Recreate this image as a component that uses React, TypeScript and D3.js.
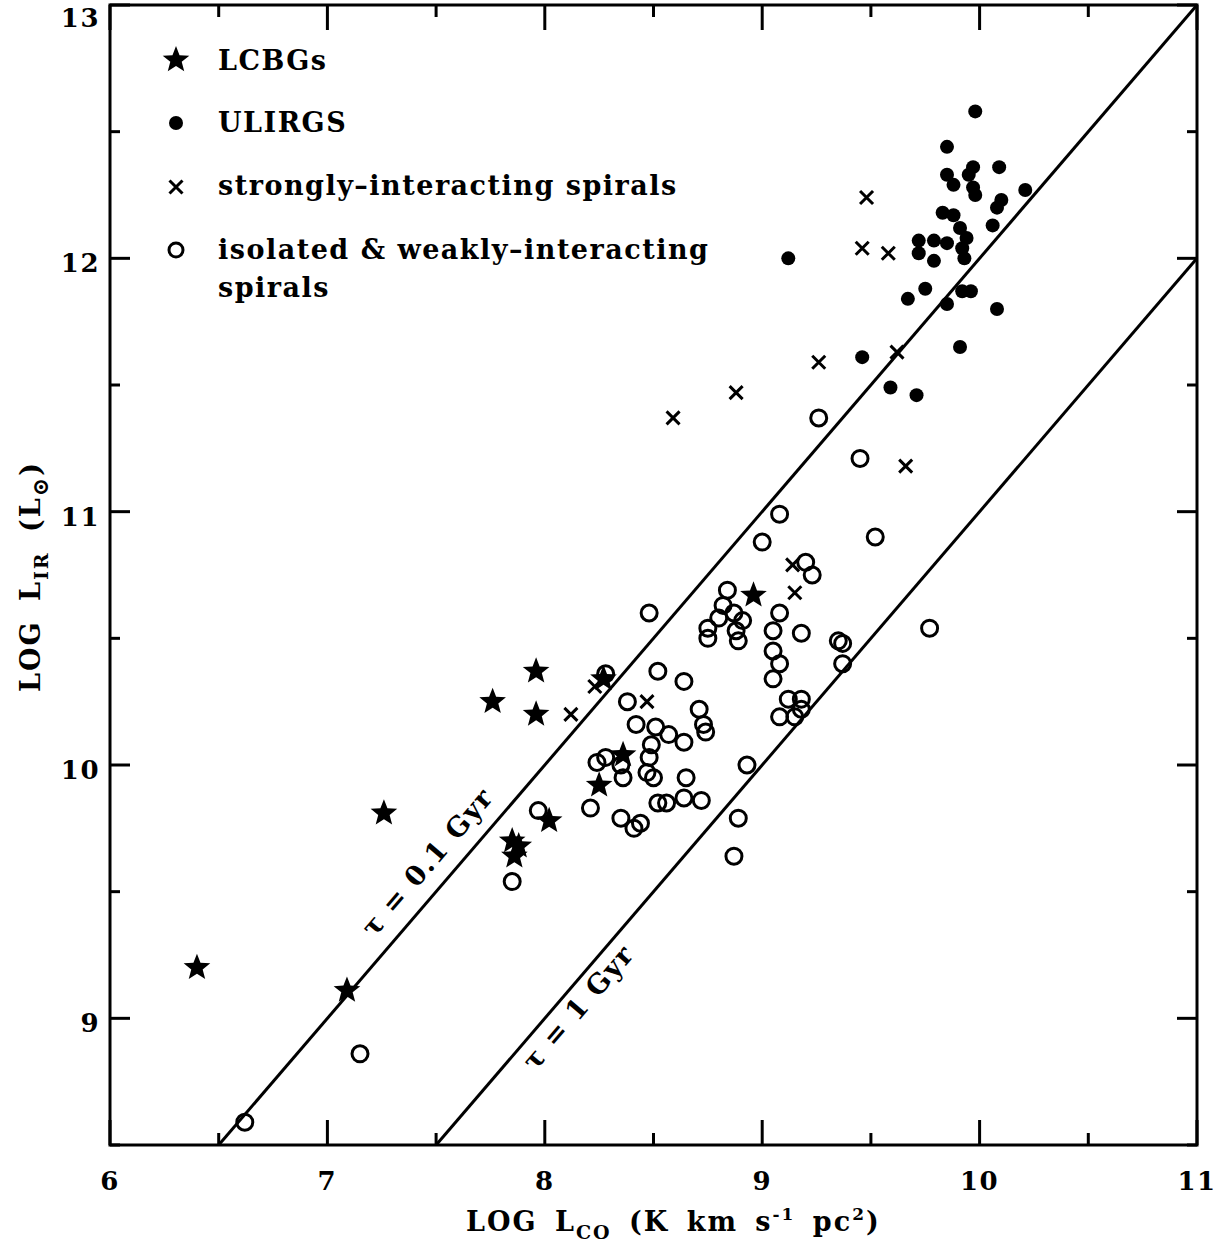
import React from "react";
import * as d3 from "d3";

// ---- data ----
const lcbgX = [6.40, 7.09, 7.26, 7.76, 7.96, 7.96, 8.27, 8.36, 8.25, 8.02, 7.85, 7.88, 7.86, 8.96];
const lcbgY = [9.20, 9.11, 9.81, 10.25, 10.37, 10.20, 10.34, 10.04, 9.92, 9.78, 9.70, 9.68, 9.64, 10.67];

const ulirgX = [9.98, 9.85, 9.85, 9.88, 9.95, 9.97, 10.09, 9.97, 9.98, 10.10, 10.08, 10.21, 9.83, 9.88, 10.06, 9.91, 9.94, 9.72, 9.79, 9.85, 9.92, 9.72, 9.79, 9.93, 9.75, 9.67, 9.92, 9.96, 9.85, 10.08, 9.12, 9.46, 9.59, 9.71, 9.91];
const ulirgY = [12.58, 12.44, 12.33, 12.29, 12.33, 12.36, 12.36, 12.28, 12.25, 12.23, 12.20, 12.27, 12.18, 12.17, 12.13, 12.12, 12.08, 12.07, 12.07, 12.06, 12.04, 12.02, 11.99, 12.00, 11.88, 11.84, 11.87, 11.87, 11.82, 11.80, 12.00, 11.61, 11.49, 11.46, 11.65];

const strongX = [9.48, 9.46, 9.58, 9.26, 8.88, 8.59, 9.62, 9.66, 9.14, 9.15, 8.12, 8.23, 8.47];
const strongY = [12.24, 12.04, 12.02, 11.59, 11.47, 11.37, 11.63, 11.18, 10.79, 10.68, 10.20, 10.31, 10.25];

const isoX = [8.48, 9.20, 9.23, 8.84, 8.82, 8.87, 8.80, 8.91, 8.75, 8.75, 8.88, 8.89, 9.08, 9.05, 9.18, 9.35, 9.37, 9.37, 9.05, 9.08, 9.05, 8.52, 8.64, 8.28, 8.38, 8.42, 8.51, 8.57, 8.64, 8.71, 8.73, 8.74, 9.12, 9.18, 9.18, 9.08, 9.15, 8.49, 8.48, 8.47, 8.50, 8.65, 8.93, 8.24, 8.28, 8.35, 8.36, 8.21, 8.35, 8.41, 8.44, 8.52, 8.56, 8.64, 8.72, 8.89, 8.87, 7.97, 7.85, 9.08, 9.00, 9.52, 9.77, 9.26, 9.45, 7.15, 6.62];
const isoY = [10.60, 10.80, 10.75, 10.69, 10.63, 10.60, 10.58, 10.57, 10.54, 10.50, 10.53, 10.49, 10.60, 10.53, 10.52, 10.49, 10.48, 10.40, 10.45, 10.40, 10.34, 10.37, 10.33, 10.36, 10.25, 10.16, 10.15, 10.12, 10.09, 10.22, 10.16, 10.13, 10.26, 10.26, 10.22, 10.19, 10.19, 10.08, 10.03, 9.97, 9.95, 9.95, 10.00, 10.01, 10.03, 10.00, 9.95, 9.83, 9.79, 9.75, 9.77, 9.85, 9.85, 9.87, 9.86, 9.79, 9.64, 9.82, 9.54, 10.99, 10.88, 10.90, 10.54, 11.37, 11.21, 8.86, 8.59];

// tau lines: log L_IR = log L_CO + offset
const tauOffsets = [2, 1];
const tauLabels = ["τ = 0.1 Gyr", "τ = 1 Gyr"];

const xMajor = [6, 7, 8, 9, 10, 11];
const xMinor = [6.5, 7.5, 8.5, 9.5, 10.5];
const yMajor = [9, 10, 11, 12, 13];
const yMinor = [8.5, 9.5, 10.5, 11.5, 12.5];

const legendLabels = ["LCBGs", "ULIRGS", "strongly\u2013interacting spirals", "isolated & weakly\u2013interacting"];

const W = 1222, H = 1247;
const X0 = 6, X1 = 11, Y0 = 8.5, Y1 = 13;
const FONT = "'DejaVu Serif', serif";

function starPath(R: number, r: number) {
  const pts: [number, number][] = [];
  for (let i = 0; i < 10; i++) {
    const a = -Math.PI / 2 + (i * Math.PI) / 5;
    const rad = i % 2 === 0 ? R : r;
    pts.push([rad * Math.cos(a), rad * Math.sin(a)]);
  }
  return d3.line()(pts)! + "Z";
}

export default function App() {
  const x = d3.scaleLinear().domain([X0, X1]).range([110, 1197]);
  const y = d3.scaleLinear().domain([Y0, Y1]).range([1145, 5]);
  const star = starPath(14, 6);
  const angle = (-Math.atan2(y(0) - y(1), x(1) - x(0)) * 180) / Math.PI;

  const xMark = (cx: number, cy: number, s: number, key: any) => (
    <path key={key} d={`M${cx - s},${cy - s}L${cx + s},${cy + s}M${cx - s},${cy + s}L${cx + s},${cy - s}`} stroke="#000" strokeWidth={3} fill="none" />
  );

  // label placement: point on line at given L_CO plus perpendicular pixel offset (+ = up-left)
  const labelPos = [
    { lx: 7.55, off: 26 },
    { lx: 8.09, off: -18 },
  ];

  const lineSeg = (off: number) => {
    const xs = Math.max(X0, Y0 - off);
    const xe = Math.min(X1, Y1 - off);
    return [[x(xs), y(xs + off)], [x(xe), y(xe + off)]] as [number, number][];
  };

  const rad = (angle * Math.PI) / 180;
  const nx = -Math.sin(rad), ny = Math.cos(rad); // down-right normal

  const ls = 1.5;

  return (
    <div style={{ position: "absolute", left: 0, top: 0 }}>
      <svg width={W} height={H} style={{ display: "block", background: "#fff" }} fontFamily={FONT}>
        <rect x={0} y={0} width={W} height={H} fill="#fff" />
        {/* tau lines */}
        {tauOffsets.map((o, i) => {
          const seg = lineSeg(o);
          return <path key={"l" + i} d={d3.line()(seg)!} stroke="#000" strokeWidth={3} fill="none" />;
        })}
        {tauLabels.map((t, i) => {
          const p = labelPos[i];
          const cx = x(p.lx), cy = y(p.lx + tauOffsets[i]);
          const px = cx - nx * p.off, py = cy - ny * p.off;
          return (
            <text key={"t" + i} x={0} y={0} transform={`translate(${px},${py}) rotate(${angle})`} textAnchor="middle" dominantBaseline="central" fontSize={27} fontWeight="bold" letterSpacing={ls}>
              {t}
            </text>
          );
        })}

        {/* data */}
        {isoX.map((v, i) => (
          <circle key={"o" + i} cx={x(v)} cy={y(isoY[i])} r={8} fill="none" stroke="#000" strokeWidth={3} />
        ))}
        {strongX.map((v, i) => xMark(x(v), y(strongY[i]), 6.5, "x" + i))}
        {ulirgX.map((v, i) => (
          <circle key={"u" + i} cx={x(v)} cy={y(ulirgY[i])} r={7} fill="#000" />
        ))}
        {lcbgX.map((v, i) => (
          <path key={"s" + i} d={star} transform={`translate(${x(v)},${y(lcbgY[i])})`} fill="#000" />
        ))}

        {/* frame */}
        <rect x={x(X0)} y={y(Y1)} width={x(X1) - x(X0)} height={y(Y0) - y(Y1)} fill="none" stroke="#000" strokeWidth={3} />
        {/* x ticks */}
        {xMajor.map((v) => (
          <g key={"xm" + v}>
            <line x1={x(v)} x2={x(v)} y1={y(Y0)} y2={y(Y0) - 25} stroke="#000" strokeWidth={3} />
            <line x1={x(v)} x2={x(v)} y1={y(Y1)} y2={y(Y1) + 25} stroke="#000" strokeWidth={3} />
            <text x={x(v)} y={1190} textAnchor="middle" fontSize={26} fontWeight="bold" letterSpacing={ls}>{v}</text>
          </g>
        ))}
        {xMinor.map((v) => (
          <g key={"xn" + v}>
            <line x1={x(v)} x2={x(v)} y1={y(Y0)} y2={y(Y0) - 12} stroke="#000" strokeWidth={3} />
            <line x1={x(v)} x2={x(v)} y1={y(Y1)} y2={y(Y1) + 12} stroke="#000" strokeWidth={3} />
          </g>
        ))}
        {/* y ticks */}
        {yMajor.map((v) => (
          <g key={"ym" + v}>
            <line x1={x(X0)} x2={x(X0) + 20} y1={y(v)} y2={y(v)} stroke="#000" strokeWidth={3} />
            <line x1={x(X1)} x2={x(X1) - 20} y1={y(v)} y2={y(v)} stroke="#000" strokeWidth={3} />
            <text x={100} y={y(v) + (v === Y1 ? 22 : 14)} textAnchor="end" fontSize={26} fontWeight="bold" letterSpacing={ls}>{v}</text>
          </g>
        ))}
        {yMinor.map((v) => (
          <g key={"yn" + v}>
            <line x1={x(X0)} x2={x(X0) + 10} y1={y(v)} y2={y(v)} stroke="#000" strokeWidth={3} />
            <line x1={x(X1)} x2={x(X1) - 10} y1={y(v)} y2={y(v)} stroke="#000" strokeWidth={3} />
          </g>
        ))}

        {/* axis titles */}
        <text x={466} y={1231} fontSize={27} fontWeight="bold" letterSpacing={2} wordSpacing={6}>
          LOG L<tspan fontSize={19} dy={8}>CO</tspan>
          <tspan dy={-8}> (K km s</tspan>
          <tspan fontSize={17} dy={-11}>-1</tspan>
          <tspan dy={11}> pc</tspan>
          <tspan fontSize={17} dy={-11}>2</tspan>
          <tspan dy={11}>)</tspan>
        </text>
        <text transform="translate(40,692) rotate(-90)" fontSize={27} fontWeight="bold" letterSpacing={2} wordSpacing={8}>
          LOG L<tspan fontSize={19} dy={8}>IR</tspan>
          <tspan dy={-8}> (L</tspan>
          <tspan fontSize={22} dy={8}>⊙</tspan>
          <tspan dy={-8}>)</tspan>
        </text>

        {/* legend */}
        <path d={star} transform="translate(176,60)" fill="#000" />
        <circle cx={176} cy={123} r={7} fill="#000" />
        {xMark(176, 187, 6.5, "lx")}
        <circle cx={176} cy={250} r={7} fill="none" stroke="#000" strokeWidth={3} />
        <text x={218} y={70} fontSize={27} fontWeight="bold" letterSpacing={ls}>{legendLabels[0]}</text>
        <text x={218} y={132} fontSize={27} fontWeight="bold" letterSpacing={ls}>{legendLabels[1]}</text>
        <text x={218} y={195} fontSize={27} fontWeight="bold" letterSpacing={ls}>{legendLabels[2]}</text>
        <text x={218} y={259} fontSize={27} fontWeight="bold" letterSpacing={ls}>{legendLabels[3]}</text>
        <text x={218} y={297} fontSize={27} fontWeight="bold" letterSpacing={ls}>spirals</text>
      </svg>
    </div>
  );
}
